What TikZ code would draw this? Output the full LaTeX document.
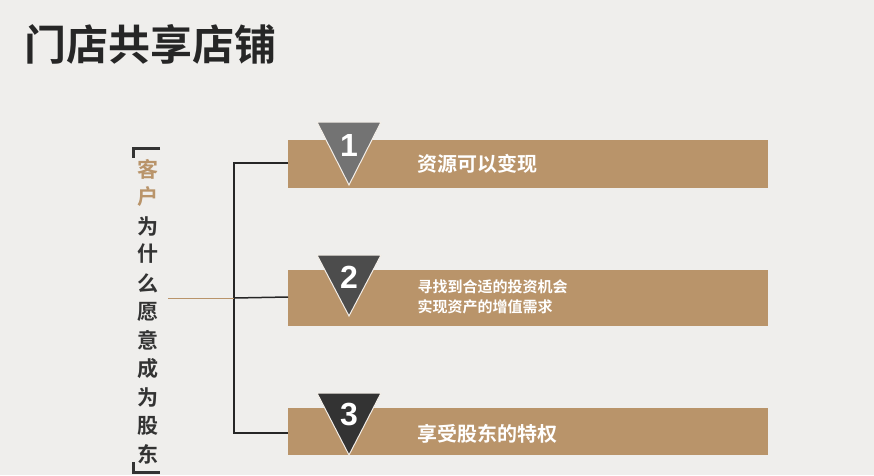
\documentclass[tikz,border=0pt]{standalone}
\usepackage{fontspec}
\setmainfont{Noto Sans CJK SC}
\newfontfamily\cjkb{Noto Sans CJK SC Bold}
\newfontfamily\numf{Liberation Sans Bold}
\definecolor{bg}{HTML}{EFEEEC}
\definecolor{tan}{HTML}{B9946A}
\definecolor{dk}{HTML}{333333}
\tikzset{
 bar/.style={fill=tan,draw=none},
 tri/.style={draw=white!85!tan,line width=1pt},
 num/.style={font=\numf\fontsize{32}{32}\selectfont,text=white},
 bt/.style={font=\cjkb\fontsize{20}{20}\selectfont,text=white,anchor=west},
 vc/.style={font=\cjkb\fontsize{21}{21}\selectfont,text=dk},
}
\begin{document}
\begin{tikzpicture}[x=1pt,y=-1pt]
\useasboundingbox[fill=bg] (0,0) rectangle (874,475);
\node[font=\cjkb\fontsize{42}{42}\selectfont,text=black!85,anchor=west,inner sep=0pt] (title) at (24,44) {门店共享店铺};
% bars
\fill[bar] (288,140) rectangle (768,188);
\fill[bar] (288,270) rectangle (768,326);
\fill[bar] (288,408) rectangle (768,455);
\coordinate (b1) at (288,163);
\coordinate (b2) at (288,297);
\coordinate (b3) at (288,433);
% triangles
\filldraw[tri,fill=black!55] (317,122) -- (381,122) -- (349,185) -- cycle;
\filldraw[tri,fill=black!70] (317,255) -- (381,255) -- (349,316) -- cycle;
\filldraw[tri,fill=black!80] (317,393) -- (381,393) -- (349,455) -- cycle;
\node[num] (n1) at (349,145) {1};
\node[num] (n2) at (349,277) {2};
\node[num] (n3) at (349,414) {3};
\node[bt] (t1) at (414,164) {资源可以变现};
\node[bt,font=\cjkb\fontsize{15}{20}\selectfont,align=left] (t2) at (414,297) {寻找到合适的投资机会\\实现资产的增值需求};
\node[bt] (t3) at (414,434) {享受股东的特权};
% tree
\coordinate (j) at (234,298);
\draw[black!85,line width=1.5pt] (b1) -- (234,163) -- (234,433) -- (b3);
\draw[black!85,line width=1.5pt] (j) -- (b2);
\coordinate (s) at (168,298);
\draw[tan,line width=1pt] (s) -- (j);
% vertical text
\node[vc,text=tan] at (148,169) {客};
\node[vc,text=tan] at (148,197) {户};
\node[vc] at (148,226) {为};
\node[vc] at (148,254) {什};
\node[vc] at (148,283) {么};
\node[vc] at (148,312) {愿};
\node[vc] at (148,340) {意};
\node[vc] at (148,369) {成};
\node[vc] at (148,397) {为};
\node[vc] at (148,426) {股};
\node[vc] at (148,454) {东};
\draw[dk,line width=3pt] (160,148) -- (133,148) -- (133,158);
\draw[dk,line width=3pt] (133,462) -- (133,472) -- (160,472);
\end{tikzpicture}
\end{document}
